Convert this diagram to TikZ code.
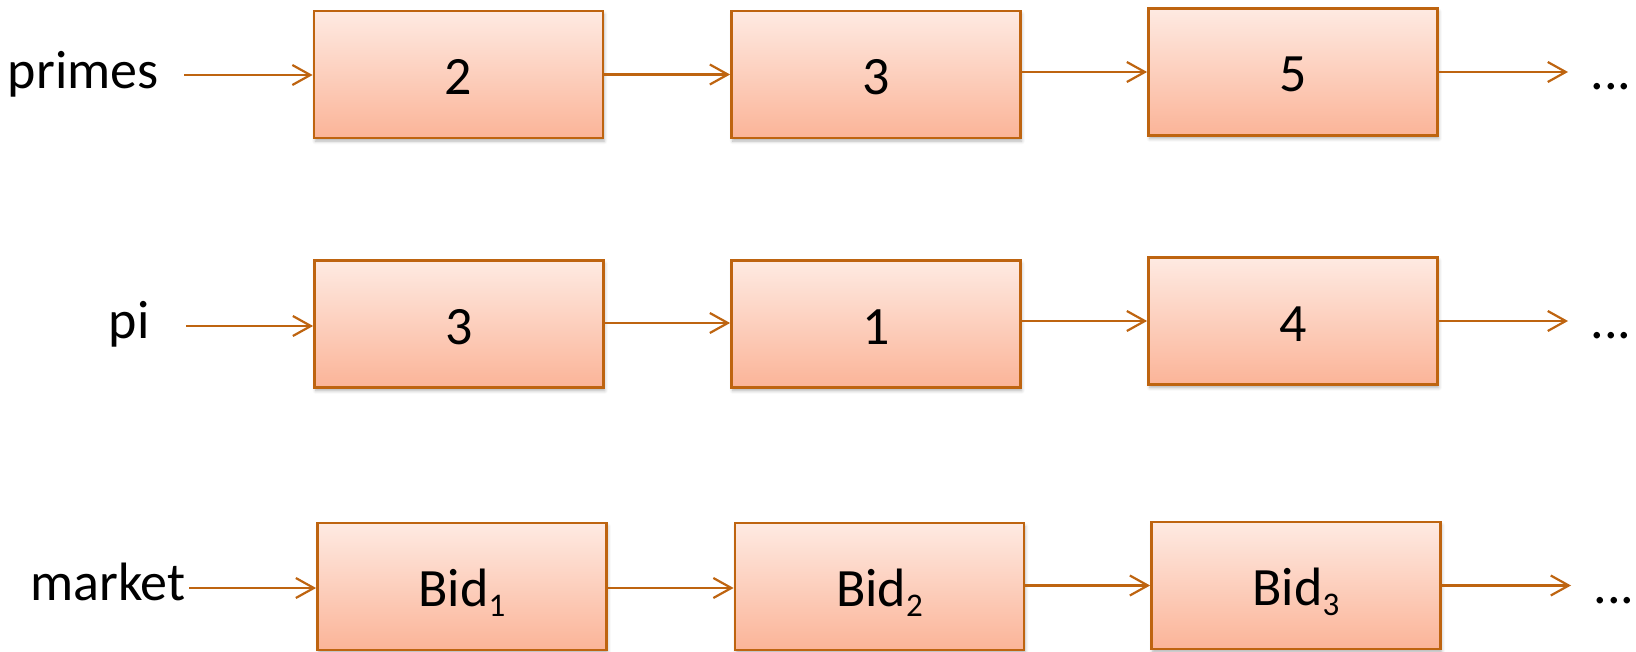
\documentclass[tikz,border=0pt]{standalone}
\usepackage{fontspec}
\setmainfont{Carlito}
\usetikzlibrary{arrows.meta,shadows.blur}
\definecolor{edge}{RGB}{190,100,16}
\definecolor{topc}{RGB}{254,234,226}
\definecolor{botc}{RGB}{251,180,152}
\newcommand{\subsc}[1]{\raisebox{-5pt}{\fontsize{16.5}{16.5}\selectfont #1}}
\tikzset{
  cell/.style={draw=edge, line width=1.4pt, top color=topc, bottom color=botc,
    minimum width=144.5pt, minimum height=63.5pt, inner sep=0pt,
    text height=20pt, text depth=0pt,
    blur shadow={shadow xshift=0.6pt, shadow yshift=-1.6pt, shadow blur radius=1.6pt, shadow opacity=30}},
  link/.style={draw=edge, line width=1.1pt, -{Straight Barb[length=9pt,width=10pt,line width=1.1pt]}},
  lbl/.style={inner sep=0pt, anchor=base east},
  dots/.style={inner sep=0pt, anchor=base west}
}
\begin{document}
\begin{tikzpicture}[x=0.5pt,y=-0.5pt,font=\fontsize{27}{32}\selectfont]
\useasboundingbox (0,0) rectangle (1636,652);
% row 1
\node[lbl] (l1) at (159,89) {primes};
\coordinate (s1) at (184,75);
\node[cell] (a1) at (458.5,74.5) {2};
\node[cell] (a2) at (876,74.5) {3};
\node[cell] (a3) at (1293,72) {5};
\coordinate (e1) at (1568,72);
\node[dots] (d1) at (1590,90) {...};
\draw[link] (s1) -- (s1 -| a1.west);
\draw[link] (a1.east |- a1.west) -- (a2.west);
\draw[link] (a2.east |- a3.west) -- (a3.west);
\draw[link] (a3.east) -- (e1);
% row 2
\node[lbl] (l2) at (150,338) {pi};
\coordinate (s2) at (186,326);
\node[cell] (b1) at (459,324) {3};
\node[cell] (b2) at (876,324) {1};
\node[cell] (b3) at (1293,321) {4};
\coordinate (e2) at (1568,321);
\node[dots] (d2) at (1590,338) {...};
\draw[link] (s2) -- (s2 -| b1.west);
\draw[link] (b1.east |- 0,323) -- (b2.west |- 0,323);
\draw[link] (b2.east |- b3.west) -- (b3.west);
\draw[link] (b3.east) -- (e2);
% row 3
\node[lbl] (l3) at (186,600) {market};
\coordinate (s3) at (189,588);
\node[cell] (c1) at (462,586.5) {Bid\subsc{1}};
\node[cell] (c2) at (879.5,586.5) {Bid\subsc{2}};
\node[cell] (c3) at (1296,585.5) {Bid\subsc{3}};
\coordinate (e3) at (1571,585.5);
\node[dots] (d3) at (1593,603) {...};
\draw[link] (s3) -- (s3 -| c1.west);
\draw[link] (c1.east |- 0,588) -- (c2.west |- 0,588);
\draw[link] (c2.east |- c3.west) -- (c3.west);
\draw[link] (c3.east) -- (e3);
\end{tikzpicture}
\end{document}
